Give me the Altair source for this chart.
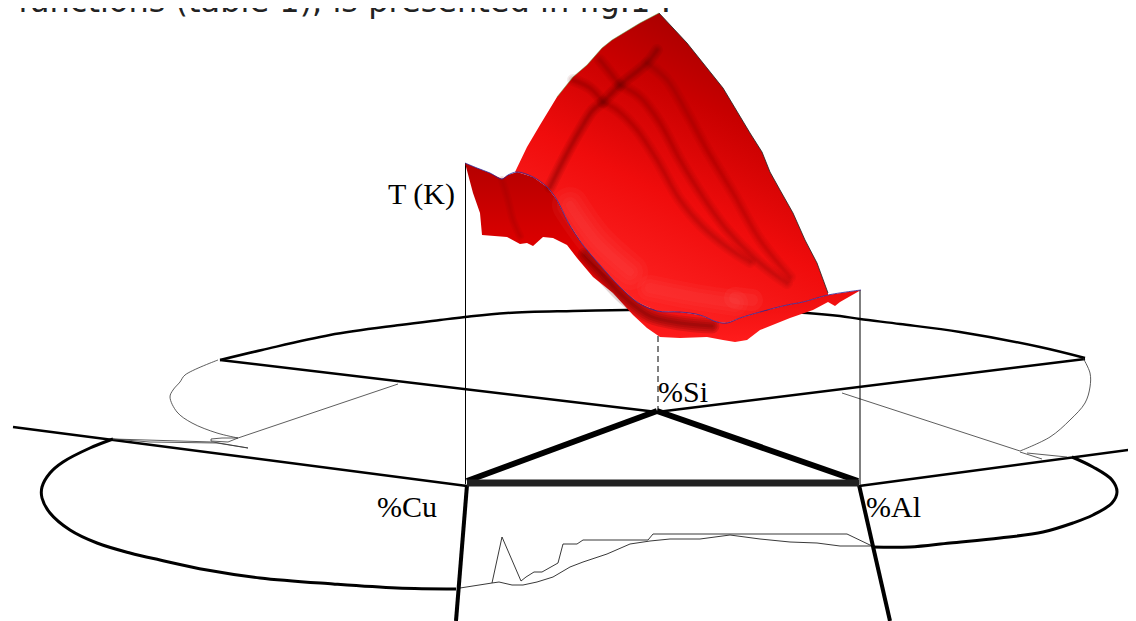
import altair as alt
import pandas as pd

# ---------- values (image pixel coordinates) ----------
back_left_edge = [(515,172),(527,147),(540,125),(557,97),(573,77),(587,65),(602,48),(612,40),(640,23),(659,13)]
back_right_edge = [(659,13),(673,28),(687,43),(707,68),(723,88),(735,108),(750,133),(762,152),(770,172),(780,190),(793,213),(805,240),(817,263),(828,293)]
blue_curve = [(861,290),(828,295),(803,302),(787,305),(760,312),(740,318),(727,323),(717,322),(700,315),(680,312),(657,311),(637,302),(620,287),(600,265),(583,245),(568,222),(557,200),(547,187),(533,177),(517,172),(508,175),(502,179),(490,173),(477,168),(465,163)]
flap_bottom = [(861,290),(840,302),(835,306),(828,302),(813,310),(790,318),(760,330),(747,340),(735,342),(723,340),(707,337),(680,338),(660,337),(647,328),(633,315),(613,293),(593,277),(577,258),(567,245),(553,238),(543,237),(533,246),(527,243),(520,244),(507,237),(482,235),(480,213),(473,193),(465,163)]

flap_shadow = [(585,255),(602,274),(625,298),(650,316),(680,323),(712,326)]
flap_crease = [(502,180),(508,200),(513,220),(520,236)]
ridge_left = [(550,187),(565,157),(580,130),(593,110),(603,102),(620,85),(647,63),(657,50)]
ridge_cross = [(573,80),(590,88),(603,102)]
ridge_top = [(600,60),(620,85)]
ridge_a = [(603,102),(617,110),(637,130),(657,160),(680,200),(703,227),(727,247),(750,262)]
ridge_b = [(620,85),(640,97),(660,123),(680,160),(703,197),(727,230),(760,263),(787,283)]
ridge_c = [(647,63),(667,80),(687,113),(707,150),(733,193),(760,240),(790,277)]
light_a = [(570,205),(595,240),(630,272)]
light_b = [(650,288),(690,296),(735,303)]
light_c = [(735,298),(752,300)]

vert_left = [(465.5,163),(465.5,484)]
vert_right = [(860,290),(860,484)]
si_dash = [(658,336),(658,410)]
tri_base = [(467,483),(859,483)]
tri_left = [(467,481),(657,411)]
tri_right = [(657,411),(858,481)]
ray_low_left = [(13,427),(467,486)]
ray_low_right = [(859,486),(1136,449)]
ray_up_left = [(220,360),(657,412)]
ray_up_right = [(657,412),(1085,359)]
leg_left = [(467,485),(456,621)]
leg_right = [(859,485),(890,621)]
arc_top = [(220,360),(262,350),(330,335),(400,325),(440,320),(465,317),(507,313),(573,311),(627,310),(720,309),(807,313),(840,316),(860,319),(900,324),(960,332),(1040,347),(1085,358)]
loop_left = [(218,360),(185,375),(180,382),(173,390),(170,397),(177,412),(192,423),(217,433),(238,438)]
chord_left = [(238,438),(398,384)]
sliver_left = [(113,439),(213,442),(248,448),(217,443),(150,442),(113,439)]
sliver_box = [(211,439),(222,438),(238,438),(228,442),(211,441),(211,439)]
arc_low_left = [(113,439),(90,448),(63,462),(50,473),(42,487),(42,498),(50,513),(70,530),(97,543),(130,553),(160,560),(207,570),(260,578),(333,584),(397,588),(456,589)]
arc_low_right = [(1072,457),(1093,467),(1112,480),(1117,492),(1112,503),(1093,515),(1073,523),(1043,532),(1000,538),(950,543),(910,547),(872,547)]
loop_right = [(1083,358),(1090,373),(1090,387),(1085,403),(1070,420),(1050,437),(1020,451)]
chord_right = [(1020,451),(842,393)]
sliver_right_a = [(1020,452),(1042,459)]
sliver_right_b = [(1027,453),(1067,457)]
profile_low = [(460,588),(492,583),(499,582),(512,585),(523,585),(537,582),(553,577),(570,567),(583,562),(607,554),(630,544),(650,541),(670,539),(700,539),(730,535),(760,539),(790,542),(817,543),(840,546),(872,546)]
profile_high = [(492,583),(502,537),(521,581),(526,577),(534,572),(542,572),(558,563),(563,544),(577,544),(583,540),(648,540),(653,534),(847,534),(872,546)]

labels = ["T (K)", "%Si", "%Cu", "%Al"]
label_x = [388, 658, 377, 866]
label_y = [204, 402, 517, 517]
caption = ["functions (table 1), is presented in fig.1 :"]

W, H = 1120, 613
xs = alt.Scale(domain=[8, 8 + W], nice=False, zero=False)
ys = alt.Scale(domain=[8 + H, 8], nice=False, zero=False)
X = alt.X("x:Q", scale=xs, axis=None)
Y = alt.Y("y:Q", scale=ys, axis=None)


def df(points):
    return pd.DataFrame([{"x": p[0], "y": p[1], "i": n} for n, p in enumerate(points)])


def line(points, color="#000000", width=1.0, opacity=1.0, dash=None, cap="butt", curve="linear"):
    kw = dict(color=color, strokeWidth=width, opacity=opacity, strokeCap=cap, strokeJoin="round", clip=False, interpolate=curve)
    if dash:
        kw["strokeDash"] = dash
    return alt.Chart(df(points)).mark_line(**kw).encode(x=X, y=Y, order=alt.Order("i:Q"))


def fill(points, paint):
    return alt.Chart(df(points)).mark_line(fill=paint, stroke=None, strokeWidth=0, clip=False).encode(
        x=X, y=Y, order=alt.Order("i:Q")
    )


def soft(points, color, widths, opacity):
    return [line(points, color, w, opacity, cap="round", curve="catmull-rom") for w in widths]


def grad(x1, y1, x2, y2, stops):
    return alt.LinearGradient(
        gradient="linear", x1=x1, y1=y1, x2=x2, y2=y2,
        stops=[alt.GradientStop(offset=o, color=c) for o, c in stops],
    )


CR = "catmull-rom"
main_poly = back_left_edge + back_right_edge[1:] + blue_curve[1:20]
flap_poly = blue_curve + flap_bottom[::-1][1:]

layers = [
    line(arc_top, width=2.5, curve=CR),
    line(ray_up_left, width=2.5),
    line(ray_up_right, width=2.5),
    line(ray_low_left, width=2.5),
    line(ray_low_right, width=2.5),
    line(arc_low_left, width=3, curve=CR),
    line(arc_low_right, width=3, curve=CR),
    line(loop_left, "#333333", 0.8, curve=CR),
    line(chord_left, "#333333", 0.8),
    line(sliver_left, "#333333", 0.8),
    line(sliver_box, "#333333", 0.8),
    line(loop_right, "#333333", 0.8, curve=CR),
    line(chord_right, "#333333", 0.8),
    line(sliver_right_a, "#333333", 0.8),
    line(sliver_right_b, "#333333", 0.8),
    line(profile_low, "#222222", 0.9),
    line(profile_high, "#222222", 0.9),
    line(vert_left, width=1),
    line(vert_right, width=1),
    line(si_dash, width=1, dash=[6, 4]),
    line(leg_left, width=4),
    line(leg_right, width=4),
    line(tri_left, width=6),
    line(tri_right, width=6),
    line(tri_base, "#222222", 7),
    fill(flap_poly, grad(0.5, 0, 0.5, 1, [(0, "#b40000"), (0.5, "#e00000"), (1, "#ff1c1c")])),
]
layers += soft(flap_crease, "#a00000", [8, 5, 2], 0.12)
layers += soft(flap_shadow, "#500000", [15, 11, 7, 3], 0.16)
layers += [
    fill(main_poly, grad(0.78, 0.0, 0.3, 0.95, [(0, "#960000"), (0.32, "#c80000"), (0.62, "#f00c0c"), (1, "#ff2626")])),
]
layers += soft(light_a, "#ff6060", [36, 26, 16, 8], 0.08)
layers += soft(light_b, "#ff6060", [26, 18, 10], 0.08)
layers += soft(light_c, "#ff7070", [22, 12], 0.1)
for r, o in [(ridge_left, 0.1), (ridge_cross, 0.08), (ridge_top, 0.07), (ridge_a, 0.055), (ridge_b, 0.055), (ridge_c, 0.05)]:
    layers += soft(r, "#600000", [12, 9, 6, 4, 2], o)
layers += [
    line(back_right_edge, "#222222", 1, 0.8),
    line(back_left_edge[3:], "#55aa44", 0.8, 0.6),
    line(blue_curve, "#2a2aa0", 0.8, curve=CR),
]

text_df = pd.DataFrame({"x": label_x, "y": label_y, "t": labels})
layers.append(
    alt.Chart(text_df).mark_text(font="Liberation Serif", fontSize=30, align="left", baseline="alphabetic", color="#000000", clip=False)
    .encode(x=X, y=Y, text="t:N")
)
cap_df = pd.DataFrame({"x": [18], "y": [12], "t": caption})
layers.append(
    alt.Chart(cap_df).mark_text(font="DejaVu Sans", fontSize=32, align="left", baseline="alphabetic", color="#222222", clip=False)
    .encode(x=X, y=Y, text="t:N")
)

chart = alt.layer(*layers).properties(width=W, height=H, padding=0, autosize=alt.AutoSizeParams(type="none")).configure_view(stroke=None)
chart.save("out.html", embed_options={"renderer": "svg", "actions": False})
